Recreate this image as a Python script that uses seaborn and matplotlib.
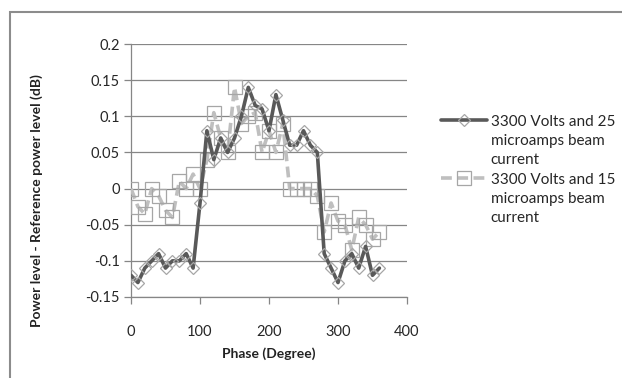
import numpy as np
import pandas as pd
import matplotlib
matplotlib.use("Agg")
import matplotlib.pyplot as plt
from matplotlib.patches import Rectangle
from matplotlib.ticker import FuncFormatter
from matplotlib.transforms import Affine2D
import seaborn as sns

# phase in degrees, one reading every 10 degrees
phase = list(range(0, 361, 10))

beam_25 = [-0.12, -0.13, -0.11, -0.10, -0.09, -0.11, -0.10, -0.10, -0.09, -0.11,
           -0.02, 0.08, 0.04, 0.07, 0.05, 0.07, 0.10, 0.14, 0.115, 0.11,
           0.08, 0.13, 0.095, 0.06, 0.06, 0.08, 0.06, 0.05, -0.09, -0.11,
           -0.13, -0.10, -0.09, -0.11, -0.08, -0.12, -0.11]

beam_15 = [0.0, -0.025, -0.035, 0.0, -0.01, -0.03, -0.04, 0.01, 0.0, 0.02,
           0.0, 0.04, 0.105, 0.07, 0.05, 0.14, 0.09, 0.10, 0.105, 0.05,
           0.08, 0.05, 0.09, 0.0, 0.0, 0.0, 0.0, -0.01, -0.06, -0.02,
           -0.045, -0.05, -0.085, -0.04, -0.05, -0.07, -0.06]

label_25 = "3300 Volts and 25\nmicroamps beam\ncurrent"
label_15 = "3300 Volts and 15\nmicroamps beam\ncurrent"

yticks = [-0.15, -0.1, -0.05, 0, 0.05, 0.1, 0.15, 0.2]
xticks = [0, 100, 200, 300, 400]

sns.set_theme(style="white")
plt.rcParams['font.family'] = ['Lato', 'DejaVu Sans']

fig = plt.figure(figsize=(6.22, 3.78), dpi=100)
ax = fig.add_axes([131 / 622, 1 - 297 / 378, 276 / 622, 253 / 378])

df = pd.DataFrame({"phase": phase, "b25": beam_25, "b15": beam_15})

grid_col = '#868686'

sns.lineplot(data=df, x="phase", y="b15", ax=ax, color='#bfbfbf', linewidth=2.6,
             linestyle=(0, (3, 1.5)), marker='s', markersize=10,
             markerfacecolor='none', markeredgecolor='#a6a6a6',
             markeredgewidth=0.9, label=label_15, zorder=3)
sns.lineplot(data=df, x="phase", y="b25", ax=ax, color='#595959', linewidth=2.6,
             marker='D', markersize=6.5, markerfacecolor='none',
             markeredgecolor='#a6a6a6', markeredgewidth=0.9,
             label=label_25, zorder=4)

ax.set_xlim(0, 400)
ax.set_ylim(-0.15, 0.2)
ax.set_xticks(xticks)
ax.set_yticks(yticks)
ax.yaxis.set_major_formatter(FuncFormatter(lambda v, p: f"{round(v, 2):g}" if round(v, 2) != 0 else "0"))

ax.grid(axis='y', color=grid_col, linewidth=0.9)
ax.grid(axis='x', visible=False)
for s in ['top', 'right']:
    ax.spines[s].set_visible(False)
for s in ['left', 'bottom']:
    ax.spines[s].set_color(grid_col)
    ax.spines[s].set_linewidth(0.9)

ax.tick_params(axis='x', direction='out', length=5, width=0.9, color=grid_col,
               pad=15, labelsize=10.5, labelcolor='#262626', bottom=True)
ax.tick_params(axis='y', direction='out', length=5, width=0.9, color=grid_col,
               pad=3, labelsize=10.5, labelcolor='#262626', left=True)

ax.set_xlabel("Phase (Degree)", fontsize=10, fontweight='bold', labelpad=6, color='#222222')
ax.set_ylabel("Power level - Reference power level (dB)", fontsize=10,
              fontweight='bold', color='#222222')
ax.yaxis.set_label_coords(-0.32, 0.38)

handles, labels = ax.get_legend_handles_labels()
order = [labels.index(label_25), labels.index(label_15)]
leg = fig.legend([handles[i] for i in order], [labels[i] for i in order],
                 loc='center left', bbox_to_anchor=(441 / 622, 1 - 170 / 378),
                 frameon=False, fontsize=11, handlelength=3.0,
                 handletextpad=0.25, borderpad=0, borderaxespad=0,
                 labelspacing=0.45, numpoints=1)
ax.get_legend().remove()
for t in leg.get_texts():
    t.set_linespacing(1.42)
    t.set_color('#262626')

# Excel puts the legend key beside the first line of each label
for h in leg.legend_handles:
    h.set_transform(h.get_transform() + Affine2D().translate(0, 21))

fig.patches.append(Rectangle((10 / 622, -0.1), 2, 1 - 12 / 378 + 0.1,
                             transform=fig.transFigure, fill=False,
                             edgecolor='#8c8c8c', linewidth=1.5))

fig.savefig("out.png", dpi=100)
